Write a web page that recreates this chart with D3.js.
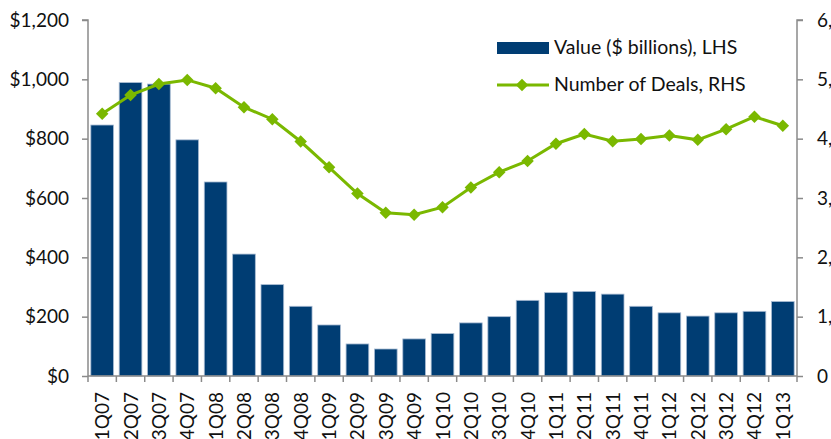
<!DOCTYPE html>
<html>
<head>
<meta charset="utf-8">
<script src="https://cdn.jsdelivr.net/npm/d3@7"></script>
<style>
  body { margin: 0; background: #fff; }
  svg { display: block; font-family: Lato, "Open Sans", sans-serif; }
</style>
</head>
<body>
<div id="chart"></div>
<script>
// trimestres
const quarters = ['1Q07','2Q07','3Q07','4Q07','1Q08','2Q08','3Q08','4Q08','1Q09','2Q09','3Q09','4Q09',
  '1Q10','2Q10','3Q10','4Q10','1Q11','2Q11','3Q11','4Q11','1Q12','2Q12','3Q12','4Q12','1Q13'];
// valeur en milliards de $ (axe gauche)
const values = [846, 989, 984, 796, 654, 411, 308, 235, 172, 108, 91, 125,
  143, 179, 200, 255, 281, 285, 276, 235, 213, 202, 213, 218, 251];
// nombre de deals (axe droit)
const deals = [4420, 4736, 4921, 4990, 4850, 4530, 4328, 3952, 3518, 3076, 2752, 2718,
  2845, 3178, 3435, 3624, 3915, 4079, 3958, 3994, 4055, 3980, 4160, 4370, 4218];
const leftTicks = [0, 200, 400, 600, 800, 1000, 1200];
const rightTicks = [0, 1000, 2000, 3000, 4000, 5000, 6000];
const legendLabels = ['Value ($ billions), LHS', 'Number of Deals, RHS'];

const WIDTH = 831;
const HEIGHT = 439;
const X0 = 88, X1 = 797, Y0 = 376, Y1 = 20;

const BAR_COLOR = '#003D73';
const LINE_COLOR = '#7AB800';
const AXIS_COLOR = '#8A8A8A';

const svg = d3.select('#chart').append('svg').attr('width', WIDTH).attr('height', HEIGHT);

const x = d3.scaleBand().domain(quarters).range([X0, X1]).paddingInner(0.2).paddingOuter(0.1);
const yL = d3.scaleLinear().domain([0, 1200]).range([Y0, Y1]);
const yR = d3.scaleLinear().domain([0, 6000]).range([Y0, Y1]);

// barres
svg.append('g').selectAll('rect')
  .data(values)
  .enter()
  .append('rect')
  .attr('x', (d, i) => x(quarters[i]))
  .attr('y', d => yL(d))
  .attr('width', x.bandwidth())
  .attr('height', d => Y0 - yL(d))
  .attr('fill', BAR_COLOR)
  .attr('stroke', '#A9BCD3')
  .attr('stroke-width', 0.8);

// axe gauche
const leftAxis = svg.append('g')
  .attr('transform', `translate(${X0},0)`)
  .call(d3.axisLeft(yL).tickValues(leftTicks).tickSize(6).tickPadding(13)
    .tickFormat(d => '$' + d3.format(',')(d)));

// axe droit (coupé au bord, comme l'original)
const rightAxis = svg.append('g')
  .attr('transform', `translate(${X1},0)`)
  .call(d3.axisRight(yR).tickValues(rightTicks).tickSize(6).tickPadding(14)
    .tickFormat(d3.format(',')));

// axe des x : un trait à chaque frontière de catégorie
const xAxis = svg.append('g').attr('transform', `translate(0,${Y0})`);
xAxis.append('line').attr('x1', X0).attr('x2', X1).attr('stroke', AXIS_COLOR).attr('stroke-width', 1.5);
const step = x.step();
xAxis.selectAll('line.tick')
  .data(d3.range(quarters.length + 1))
  .enter()
  .append('line')
  .attr('class', 'tick')
  .attr('x1', i => X0 + i * step)
  .attr('x2', i => X0 + i * step)
  .attr('y1', 0)
  .attr('y2', 6)
  .attr('stroke', AXIS_COLOR)
  .attr('stroke-width', 1.5);
xAxis.selectAll('text')
  .data(quarters)
  .enter()
  .append('text')
  .attr('transform', d => `translate(${x(d) + x.bandwidth() / 2 + 7},16) rotate(-90)`)
  .attr('text-anchor', 'end')
  .attr('font-size', 19)
  .attr('fill', '#111')
  .text(d => d);

[leftAxis, rightAxis].forEach(ax => {
  ax.select('.domain').attr('stroke', AXIS_COLOR).attr('stroke-width', 1.5);
  ax.selectAll('.tick line').attr('stroke', AXIS_COLOR).attr('stroke-width', 1.5);
  ax.selectAll('.tick text').attr('font-size', 19).attr('fill', '#111').attr('font-family', 'Lato, sans-serif');
});
rightAxis.select('.domain').attr('d', `M6,${Y1}H0V${Y0}`);
leftAxis.select('.domain').attr('d', `M-6,${Y1}H0V${Y0}`);

// ligne du nombre de deals
const line = d3.line()
  .x((d, i) => x(quarters[i]) + x.bandwidth() / 2)
  .y(d => yR(d));

svg.append('path')
  .datum(deals)
  .attr('d', line)
  .attr('fill', 'none')
  .attr('stroke', LINE_COLOR)
  .attr('stroke-width', 3);

const diamond = d3.symbol().type(d3.symbolDiamond2).size(100);
svg.append('g').selectAll('path')
  .data(deals)
  .enter()
  .append('path')
  .attr('transform', (d, i) => `translate(${x(quarters[i]) + x.bandwidth() / 2},${yR(d)})`)
  .attr('d', diamond)
  .attr('fill', LINE_COLOR);

// la légende
const legend = svg.append('g');
legend.append('rect')
  .attr('x', 497).attr('y', 42).attr('width', 52).attr('height', 12)
  .attr('fill', BAR_COLOR);
legend.append('line')
  .attr('x1', 497).attr('x2', 549).attr('y1', 85).attr('y2', 85)
  .attr('stroke', LINE_COLOR).attr('stroke-width', 3);
legend.append('path')
  .attr('transform', 'translate(522,85)')
  .attr('d', diamond)
  .attr('fill', LINE_COLOR);
legend.selectAll('text')
  .data(legendLabels)
  .enter()
  .append('text')
  .attr('x', 554)
  .attr('y', (d, i) => 54 + i * 37)
  .attr('font-size', 19.5)
  .attr('fill', '#111')
  .text(d => d);
</script>
</body>
</html>
